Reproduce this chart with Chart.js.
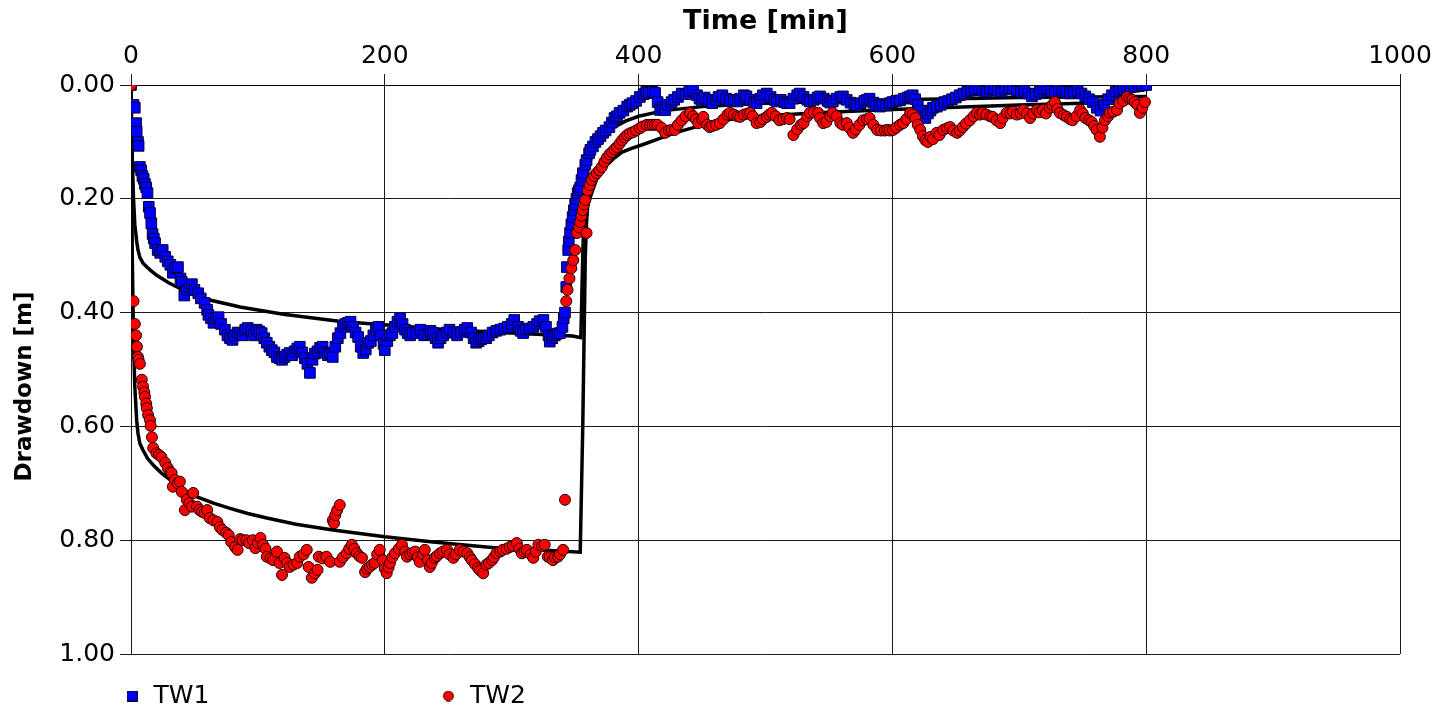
<!DOCTYPE html>
<html>
<head>
<meta charset="utf-8">
<script src="https://cdn.jsdelivr.net/npm/chart.js@4.4.1/dist/chart.umd.min.js"></script>
<style>
  html, body { margin: 0; padding: 0; background: #ffffff; }
  #wrap { width: 1450px; height: 711px; }
</style>
</head>
<body>
<div id="wrap"><canvas id="c" width="1450" height="711"></canvas></div>
<script>
// ---------------- DATA ----------------
const seriesNames = ['TW1', 'TW2'];
const xTicks = [0, 200, 400, 600, 800, 1000];
const yTicks = [0.0, 0.2, 0.4, 0.6, 0.8, 1.0];

const tw1Time = [
  0, 2, 3, 4, 4.5, 5.5, 6, 7, 8, 9,
  10, 11, 12, 13, 14, 15, 16, 17, 18, 19,
  21, 23, 25, 27, 29, 31, 33, 35, 37, 39,
  40, 42, 44, 46, 48, 50, 53, 55, 58, 60,
  61, 63, 65, 67, 69, 71, 74, 76, 78, 80,
  82, 84, 86, 88, 90, 92, 95, 97, 99, 101,
  103, 105, 107, 109, 111, 113, 115, 117, 119, 121,
  123, 125, 127, 129, 131, 133, 135, 137, 139, 141,
  143, 145, 147, 149, 151, 153, 155, 157, 159, 161,
  163, 165, 167, 169, 171, 173, 175, 177, 179, 181,
  183, 185, 187, 189, 191, 193, 195, 197, 199, 200,
  202, 204, 206, 208, 210, 212, 214, 216, 218, 220,
  222, 225, 228, 231, 234, 236, 238, 240, 242, 244,
  246, 249, 251, 254, 257, 260, 263, 265, 268, 270,
  272, 274, 276, 278, 280, 282, 285, 288, 291, 294,
  297, 300, 302, 305, 307, 309, 311, 314, 317, 320,
  322, 325, 327, 329, 330, 332, 334, 336, 338, 340,
  341, 342, 343, 343.5, 344.5, 345, 346, 347, 348, 349,
  350, 351, 352, 353, 354, 355, 356, 358, 359, 361,
  362, 364, 366, 368, 370, 372, 374, 377, 379, 381,
  383, 385, 388, 391, 393, 395, 398, 401, 404, 406,
  408, 411, 413, 415, 417, 419, 421, 423, 426, 428,
  431, 434, 437, 440, 443, 446, 448, 450, 452, 455,
  458, 461, 463, 466, 469, 472, 475, 478, 480, 483,
  485, 488, 491, 493, 496, 498, 501, 504, 507, 509,
  512, 515, 517, 519, 522, 525, 527, 530, 533, 535,
  538, 541, 543, 546, 549, 551, 553, 556, 559, 561,
  564, 567, 570, 572, 575, 578, 580, 582, 585, 587,
  590, 592, 595, 598, 600, 603, 606, 609, 612, 614,
  616, 618, 620, 622, 624, 626, 628, 630, 632, 635,
  638, 641, 644, 647, 650, 653, 656, 659, 662, 665,
  668, 671, 674, 677, 680, 683, 686, 689, 692, 695,
  698, 701, 704, 707, 710, 713, 716, 719, 722, 725,
  728, 731, 734, 737, 740, 743, 746, 749, 752, 755,
  758, 761, 764, 767, 770, 773, 776, 779, 782, 785,
  788, 791, 794, 797, 800
];
const tw1Drawdown = [
  0.000, 0.035, 0.040, 0.067, 0.082, 0.100, 0.107, 0.144, 0.150, 0.160,
  0.165, 0.174, 0.180, 0.190, 0.214, 0.225, 0.243, 0.262, 0.270, 0.278,
  0.290, 0.295, 0.290, 0.302, 0.310, 0.316, 0.330, 0.322, 0.320, 0.340,
  0.346, 0.370, 0.360, 0.355, 0.350, 0.360, 0.366, 0.375, 0.383, 0.395,
  0.404, 0.410, 0.418, 0.410, 0.408, 0.420, 0.430, 0.440, 0.445, 0.448,
  0.440, 0.435, 0.436, 0.440, 0.430, 0.427, 0.432, 0.440, 0.430, 0.433,
  0.436, 0.445, 0.453, 0.460, 0.466, 0.470, 0.478, 0.480, 0.483, 0.478,
  0.474, 0.471, 0.475, 0.468, 0.463, 0.460, 0.470, 0.480, 0.490, 0.506,
  0.483, 0.472, 0.468, 0.462, 0.460, 0.470, 0.475, 0.472, 0.478, 0.460,
  0.445, 0.436, 0.425, 0.420, 0.418, 0.416, 0.425, 0.435, 0.443, 0.460,
  0.471, 0.465, 0.453, 0.450, 0.440, 0.430, 0.425, 0.440, 0.455, 0.466,
  0.450, 0.440, 0.436, 0.425, 0.416, 0.410, 0.420, 0.430, 0.436, 0.440,
  0.435, 0.436, 0.430, 0.440, 0.438, 0.432, 0.436, 0.445, 0.453, 0.445,
  0.440, 0.435, 0.430, 0.435, 0.440, 0.434, 0.430, 0.427, 0.435, 0.445,
  0.453, 0.450, 0.447, 0.445, 0.445, 0.440, 0.435, 0.432, 0.430, 0.428,
  0.425, 0.420, 0.413, 0.425, 0.432, 0.436, 0.430, 0.428, 0.425, 0.420,
  0.415, 0.413, 0.425, 0.440, 0.451, 0.445, 0.440, 0.437, 0.436, 0.425,
  0.410, 0.400, 0.355, 0.320, 0.290, 0.275, 0.260, 0.245, 0.232, 0.220,
  0.210, 0.200, 0.190, 0.185, 0.180, 0.167, 0.155, 0.140, 0.132, 0.120,
  0.114, 0.108, 0.100, 0.095, 0.090, 0.084, 0.080, 0.074, 0.066, 0.058,
  0.055, 0.049, 0.045, 0.038, 0.035, 0.032, 0.028, 0.021, 0.016, 0.012,
  0.014, 0.012, 0.014, 0.030, 0.044, 0.040, 0.044, 0.035, 0.030, 0.026,
  0.021, 0.015, 0.016, 0.011, 0.009, 0.018, 0.024, 0.027, 0.022, 0.026,
  0.032, 0.026, 0.021, 0.018, 0.024, 0.028, 0.026, 0.029, 0.024, 0.018,
  0.020, 0.026, 0.030, 0.032, 0.024, 0.018, 0.015, 0.021, 0.026, 0.029,
  0.026, 0.030, 0.032, 0.032, 0.024, 0.018, 0.015, 0.021, 0.026, 0.029,
  0.026, 0.022, 0.020, 0.024, 0.028, 0.031, 0.029, 0.024, 0.021, 0.020,
  0.026, 0.031, 0.034, 0.036, 0.032, 0.028, 0.026, 0.024, 0.031, 0.036,
  0.038, 0.034, 0.036, 0.032, 0.030, 0.028, 0.027, 0.024, 0.022, 0.020,
  0.018, 0.025, 0.035, 0.045, 0.055, 0.058, 0.050, 0.045, 0.040, 0.038,
  0.035, 0.030, 0.028, 0.025, 0.022, 0.018, 0.015, 0.012, 0.010, 0.008,
  0.006, 0.010, 0.012, 0.008, 0.006, 0.010, 0.012, 0.008, 0.005, 0.006,
  0.010, 0.012, 0.010, 0.015, 0.020, 0.016, 0.012, 0.008, 0.006, 0.010,
  0.012, 0.008, 0.010, 0.012, 0.015, 0.012, 0.010, 0.015, 0.020, 0.025,
  0.030, 0.040, 0.045, 0.035, 0.025, 0.018, 0.012, 0.010, 0.008, 0.005,
  0.004, 0.003, 0.002, 0.001, 0.000
];

const tw2Time = [
  0, 2, 3, 4, 4.7, 5.5, 6, 7, 8.5, 9.5,
  10.5, 11, 12, 12.5, 13.5, 15, 15.5, 16.5, 17.5, 20,
  22, 24, 27, 29, 31, 32, 33, 34.5, 37, 38.5,
  40, 42.5, 44, 46, 48, 49, 52, 54, 56, 58,
  60, 62, 65, 68, 70, 72, 75, 77, 79, 82,
  84, 86, 88, 91, 93, 96, 98, 100, 102, 104,
  106, 107, 110, 112, 115, 117, 119, 121, 123, 125,
  128, 131, 133, 136, 138.5, 140, 142.5, 145, 147, 148,
  151, 154, 157, 159, 160, 161, 162.5, 164.5, 164.5, 167,
  170, 172, 174, 176, 178, 180, 182, 184.5, 186, 188,
  190, 192, 194, 196, 198.5, 200, 201.5, 203, 204, 206,
  208, 211, 213.5, 216, 217.5, 220, 222, 224, 226, 227.5,
  230, 231.5, 234, 235.5, 237, 239.5, 241, 243.5, 246, 249,
  251, 254, 256, 259, 262, 265, 267, 268.5, 271, 273.5,
  275, 277.5, 280, 282, 284.5, 286, 288, 291, 293, 296,
  298.5, 301, 304, 306, 308, 310, 312, 315, 317, 319,
  321, 324, 326, 328.5, 330, 332.5, 334, 336.5, 338, 340.5,
  342, 343, 344, 345.5, 347, 348.5, 350, 351.5, 353, 354,
  355, 356, 357, 358, 359, 360, 361.5, 363, 365, 367,
  369, 371, 373, 375, 377, 379, 381, 383, 385, 387,
  389, 391, 393, 395.5, 398, 401, 403, 406.5, 409, 411,
  413, 415, 418, 421, 424, 426, 428.5, 431, 434, 437,
  440.5, 443, 445, 447, 450, 451, 454, 456, 458, 461,
  464, 467, 470, 472, 475, 478, 480, 483, 486, 488,
  490, 493, 496, 498, 501, 503, 505, 508, 511, 514,
  517, 519, 522, 525, 528, 530, 533, 535, 538, 541.5,
  543, 545.5, 548, 551, 553, 556, 559, 561, 564, 566,
  569, 571, 574, 577, 580, 582, 585, 588, 591, 594,
  596, 598, 600.5, 603, 606, 608.5, 611, 614, 616, 618,
  620, 622, 624, 626, 628, 630, 632, 635, 637, 640,
  643, 645.5, 648, 651, 653, 655.5, 658, 661, 664, 666.5,
  669, 671, 674, 677, 679, 682, 685, 687, 690, 693,
  695, 698, 701, 703, 706, 708.5, 711, 714, 716, 718.5,
  721, 724, 726, 728, 730, 732, 735, 737.5, 740, 742,
  745, 748, 750, 752, 755, 757, 759, 761, 763.5, 765.5,
  767.5, 770, 771.5, 774, 777, 779, 782, 785, 787, 789,
  791, 793, 795, 797, 799
];
const tw2Drawdown = [
  0.000, 0.380, 0.420, 0.440, 0.460, 0.478, 0.483, 0.490, 0.518, 0.530,
  0.540, 0.548, 0.560, 0.568, 0.580, 0.589, 0.599, 0.619, 0.638, 0.647,
  0.650, 0.654, 0.664, 0.673, 0.680, 0.682, 0.706, 0.694, 0.700, 0.697,
  0.715, 0.747, 0.729, 0.735, 0.741, 0.717, 0.741, 0.747, 0.750, 0.752,
  0.747, 0.761, 0.765, 0.768, 0.777, 0.782, 0.787, 0.791, 0.803, 0.812,
  0.817, 0.798, 0.800, 0.800, 0.805, 0.800, 0.814, 0.805, 0.796, 0.808,
  0.815, 0.829, 0.832, 0.835, 0.820, 0.840, 0.861, 0.831, 0.840, 0.847,
  0.843, 0.840, 0.829, 0.825, 0.817, 0.847, 0.866, 0.858, 0.852, 0.829,
  0.832, 0.829, 0.838, 0.765, 0.770, 0.756, 0.747, 0.738, 0.838, 0.830,
  0.823, 0.815, 0.808, 0.815, 0.823, 0.828, 0.831, 0.856, 0.850, 0.847,
  0.843, 0.840, 0.825, 0.817, 0.835, 0.850, 0.858, 0.848, 0.840, 0.830,
  0.823, 0.815, 0.808, 0.820, 0.829, 0.825, 0.822, 0.820, 0.830, 0.838,
  0.825, 0.817, 0.835, 0.847, 0.840, 0.831, 0.828, 0.823, 0.820, 0.817,
  0.825, 0.831, 0.825, 0.817, 0.820, 0.823, 0.830, 0.835, 0.842, 0.849,
  0.853, 0.858, 0.843, 0.840, 0.835, 0.830, 0.823, 0.820, 0.817, 0.815,
  0.812, 0.810, 0.805, 0.815, 0.823, 0.820, 0.817, 0.825, 0.831, 0.820,
  0.808, 0.810, 0.808, 0.829, 0.830, 0.835, 0.830, 0.829, 0.825, 0.817,
  0.729, 0.380, 0.360, 0.340, 0.322, 0.308, 0.290, 0.260, 0.250, 0.241,
  0.230, 0.220, 0.210, 0.202, 0.260, 0.185, 0.176, 0.167, 0.160, 0.155,
  0.150, 0.144, 0.135, 0.128, 0.122, 0.118, 0.113, 0.109, 0.103, 0.097,
  0.092, 0.088, 0.085, 0.083, 0.080, 0.076, 0.073, 0.070, 0.070, 0.070,
  0.070, 0.070, 0.075, 0.084, 0.080, 0.079, 0.079, 0.070, 0.062, 0.055,
  0.049, 0.055, 0.060, 0.067, 0.060, 0.056, 0.070, 0.074, 0.072, 0.070,
  0.067, 0.060, 0.052, 0.049, 0.052, 0.055, 0.056, 0.052, 0.050, 0.049,
  0.055, 0.067, 0.065, 0.060, 0.056, 0.052, 0.049, 0.055, 0.062, 0.060,
  0.058, 0.060, 0.088, 0.078, 0.070, 0.067, 0.055, 0.049, 0.048, 0.049,
  0.058, 0.067, 0.065, 0.055, 0.049, 0.055, 0.067, 0.070, 0.067, 0.075,
  0.084, 0.078, 0.070, 0.062, 0.060, 0.058, 0.070, 0.079, 0.080, 0.080,
  0.079, 0.080, 0.079, 0.075, 0.070, 0.067, 0.060, 0.049, 0.052, 0.058,
  0.070, 0.079, 0.090, 0.097, 0.100, 0.091, 0.095, 0.084, 0.088, 0.079,
  0.076, 0.074, 0.080, 0.084, 0.080, 0.074, 0.068, 0.062, 0.055, 0.049,
  0.052, 0.049, 0.052, 0.055, 0.056, 0.062, 0.067, 0.058, 0.049, 0.050,
  0.047, 0.052, 0.050, 0.044, 0.050, 0.058, 0.050, 0.044, 0.048, 0.044,
  0.050, 0.040, 0.035, 0.030, 0.042, 0.049, 0.053, 0.056, 0.060, 0.062,
  0.055, 0.044, 0.050, 0.058, 0.062, 0.065, 0.072, 0.079, 0.091, 0.075,
  0.062, 0.055, 0.049, 0.047, 0.044, 0.032, 0.028, 0.021, 0.024, 0.026,
  0.030, 0.035, 0.049, 0.040, 0.030
];

// simulated (model) curves, black lines
const model1Time = [
  0, 1, 2, 3, 4.5, 5.5, 7, 9.5, 12.5, 15,
  20, 30, 41, 62, 86, 120, 167, 202, 250, 300,
  348, 354.5, 356, 357, 358, 360, 363, 367, 373, 380,
  390, 400, 420, 450, 500, 550, 600, 650, 700, 750,
  800
];
const model1Drawdown = [
  0.000, 0.130, 0.200, 0.245, 0.275, 0.290, 0.303, 0.313, 0.320, 0.325,
  0.334, 0.348, 0.360, 0.378, 0.390, 0.403, 0.416, 0.422, 0.430, 0.436,
  0.441, 0.444, 0.300, 0.220, 0.180, 0.150, 0.125, 0.105, 0.088, 0.075,
  0.063, 0.055, 0.045, 0.038, 0.032, 0.029, 0.026, 0.024, 0.022, 0.021,
  0.020
];
const model2Time = [
  0, 1, 2, 3, 4.5, 5.5, 7, 9.5, 13, 17.5,
  24, 31, 40, 52, 65, 78, 92, 107, 130, 159,
  200, 238, 265, 291, 320, 354, 356, 358, 359, 360,
  363, 367, 373.5, 380, 387, 395, 403, 413, 428.5, 444.5,
  458, 480, 500, 550, 600, 650, 700, 750, 800
];
const model2Drawdown = [
  0.000, 0.300, 0.450, 0.530, 0.590, 0.612, 0.630, 0.642, 0.656, 0.668,
  0.682, 0.694, 0.710, 0.724, 0.735, 0.744, 0.753, 0.761, 0.772, 0.782,
  0.794, 0.803, 0.809, 0.814, 0.817, 0.821, 0.600, 0.300, 0.240, 0.210,
  0.190, 0.165, 0.144, 0.130, 0.118, 0.111, 0.105, 0.097, 0.084, 0.074,
  0.065, 0.058, 0.054, 0.048, 0.043, 0.039, 0.035, 0.032, 0.030
];

// ---------------- CHART ----------------
const FONT = "'DejaVu Sans', Verdana, sans-serif";
Chart.defaults.font.family = FONT;
Chart.defaults.color = '#000000';

function pts(xs, ys) { return xs.map((x, i) => ({ x: x, y: ys[i] })); }

function makeIcon(kind) {
  const cv = document.createElement('canvas');
  cv.width = 11; cv.height = 11;
  const g = cv.getContext('2d');
  g.lineWidth = 1;
  if (kind === 'rect') {
    g.fillStyle = '#0000ff';
    g.fillRect(0, 0, 11, 11);
    g.strokeStyle = '#000033';
    g.strokeRect(0.5, 0.5, 10, 10);
  } else {
    g.fillStyle = '#ff0000';
    g.strokeStyle = '#220000';
    g.beginPath();
    g.arc(5.5, 5.5, 4.9, 0, Math.PI * 2);
    g.fill();
    g.stroke();
  }
  return cv;
}
const legendIcons = [makeIcon('rect'), makeIcon('circle')];

const LEGEND_X = 123;      // left of first legend item
const LEGEND_Y = 683.5;    // top of the legend row
const Y_TITLE_SHIFT = 34;  // y-axis title sits slightly below the plot centre
const legendPlacer = {
  id: 'legendPlacer',
  afterLayout(chart) {
    const lg = chart.legend;
    if (lg) {
      const P = lg.options.labels.padding;
      lg.left = LEGEND_X - P;
      lg.right = chart.width;
      lg.top = LEGEND_Y - P;
      lg.bottom = chart.height;
    }
    const ys = chart.scales.y;
    if (ys) { ys.bottom += Y_TITLE_SHIFT; }
  }
};

const gridColor = '#1a1a1a';

new Chart(document.getElementById('c'), {
  type: 'scatter',
  data: {
    datasets: [
      {
        label: seriesNames[0],
        data: pts(tw1Time, tw1Drawdown),
        pointStyle: 'rect',
        pointRadius: 7.5,
        pointHoverRadius: 7.5,
        backgroundColor: '#0000ff',
        borderColor: '#000033',
        borderWidth: 1,
        showLine: false,
        order: 2
      },
      {
        label: seriesNames[1],
        data: pts(tw2Time, tw2Drawdown),
        pointStyle: 'circle',
        pointRadius: 5.5,
        pointHoverRadius: 5.5,
        backgroundColor: '#ff0000',
        borderColor: '#220000',
        borderWidth: 1,
        showLine: false,
        order: 1
      },
      {
        label: 'TW1 model',
        data: pts(model1Time, model1Drawdown),
        showLine: true,
        pointRadius: 0,
        borderColor: '#000000',
        backgroundColor: '#000000',
        borderWidth: 3.5,
        tension: 0,
        fill: false,
        order: 3
      },
      {
        label: 'TW2 model',
        data: pts(model2Time, model2Drawdown),
        showLine: true,
        pointRadius: 0,
        borderColor: '#000000',
        backgroundColor: '#000000',
        borderWidth: 3.5,
        tension: 0,
        fill: false,
        order: 4
      }
    ]
  },
  options: {
    responsive: false,
    animation: false,
    devicePixelRatio: 1,
    layout: { padding: { left: 0, right: 50, top: 0, bottom: 0 } },
    plugins: {
      tooltip: { enabled: false },
      legend: {
        display: true,
        position: 'bottom',
        align: 'start',
        maxHeight: 57,
        labels: {
          usePointStyle: true,
          boxWidth: 18,
          boxHeight: 11,
          padding: 230,
          color: '#000000',
          font: { family: FONT, size: 25 },
          generateLabels(chart) {
            return [0, 1].map(i => ({
              text: chart.data.datasets[i].label,
              fillStyle: chart.data.datasets[i].backgroundColor,
              strokeStyle: chart.data.datasets[i].borderColor,
              lineWidth: 1,
              pointStyle: legendIcons[i],
              fontColor: '#000000',
              hidden: false,
              datasetIndex: i
            }));
          }
        }
      }
    },
    scales: {
      x: {
        type: 'linear',
        position: 'top',
        min: 0,
        max: 1000,
        afterFit(scale) { scale.height = 85; },
        afterBuildTicks(scale) { scale.ticks = xTicks.map(v => ({ value: v })); },
        ticks: {
          font: { family: FONT, size: 25 },
          color: '#000000',
          padding: 3,
          maxRotation: 0,
          callback: v => String(v)
        },
        grid: { color: gridColor, lineWidth: 1, tickLength: 11, drawTicks: true },
        border: { display: true, color: '#000000', width: 1 },
        title: {
          display: true,
          text: 'Time [min]',
          font: { family: FONT, size: 27, weight: 'bold' },
          color: '#000000',
          padding: { top: 6, bottom: 0 }
        }
      },
      y: {
        type: 'linear',
        position: 'left',
        reverse: true,
        min: 0,
        max: 1,
        afterFit(scale) { scale.width = 131; },
        afterBuildTicks(scale) { scale.ticks = yTicks.map(v => ({ value: v })); },
        ticks: {
          font: { family: FONT, size: 25 },
          color: '#000000',
          padding: 5,
          callback: v => Number(v).toFixed(2)
        },
        grid: { color: gridColor, lineWidth: 1, tickLength: 11, drawTicks: true },
        border: { display: false },
        title: {
          display: true,
          text: 'Drawdown [m]',
          font: { family: FONT, size: 23, weight: 'bold' },
          color: '#000000',
          padding: { top: 11, bottom: 0 }
        }
      }
    }
  },
  plugins: [legendPlacer]
});
</script>
</body>
</html>
